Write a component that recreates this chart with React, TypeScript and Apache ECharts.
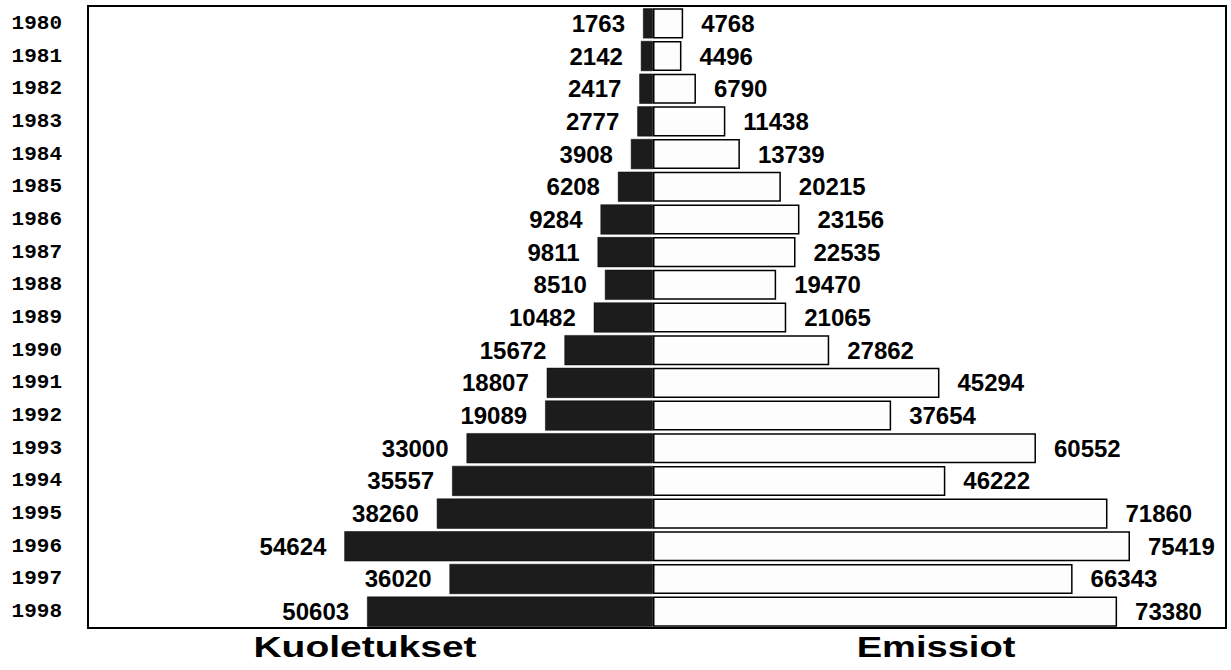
import React, { useEffect, useRef } from "react";
import * as echarts from "echarts";

const years = ["1980","1981","1982","1983","1984","1985","1986","1987","1988","1989","1990","1991","1992","1993","1994","1995","1996","1997","1998"];
const kuoletukset = [1763,2142,2417,2777,3908,6208,9284,9811,8510,10482,15672,18807,19089,33000,35557,38260,54624,36020,50603];
const emissiot = [4768,4496,6790,11438,13739,20215,23156,22535,19470,21065,27862,45294,37654,60552,46222,71860,75419,66343,73380];
const leftTitle = "Kuoletukset";
const rightTitle = "Emissiot";

export default function App() {
  const ref = useRef<HTMLDivElement>(null);
  useEffect(() => {
    if (!ref.current) return;
    const chart = echarts.init(ref.current, null, { renderer: "svg" });
    const valueLabel = {
      show: true,
      fontFamily: "Liberation Sans, Arial, sans-serif",
      fontWeight: "bold" as const,
      fontSize: 24,
      color: "#000",
      distance: 18,
    };
    chart.setOption({
      animation: false,
      backgroundColor: "#fff",
      grid: [
        { left: 88, top: 7, width: 565, height: 621 },
        { left: 653, top: 7, width: 573, height: 621 },
      ],
      xAxis: [
        { type: "value", gridIndex: 0, min: 0, max: 100000, inverse: true, show: false },
        { type: "value", gridIndex: 1, min: 0, max: 90600, show: false },
      ],
      yAxis: [
        {
          type: "category",
          gridIndex: 0,
          data: years,
          inverse: true,
          position: "left",
          axisLine: { show: false },
          axisTick: { show: false },
          axisLabel: {
            margin: 26,
            fontFamily: "Liberation Mono, Courier New, monospace",
            fontWeight: "bold",
            fontSize: 21,
            color: "#000",
            padding: [5, 0, 0, 0],
          },
        },
        {
          type: "category",
          gridIndex: 1,
          data: years,
          inverse: true,
          show: false,
        },
      ],
      series: [
        {
          name: leftTitle,
          type: "bar",
          xAxisIndex: 0,
          yAxisIndex: 0,
          data: kuoletukset,
          barCategoryGap: "8%",
          itemStyle: { color: "#1c1c1c", borderColor: "#000", borderWidth: 0.5 },
          label: { ...valueLabel, position: "left" },
        },
        {
          name: rightTitle,
          type: "bar",
          xAxisIndex: 1,
          yAxisIndex: 1,
          data: emissiot,
          barCategoryGap: "8%",
          itemStyle: { color: "#fdfdfd", borderColor: "#000", borderWidth: 1.5 },
          label: { ...valueLabel, position: "right" },
        },
      ],
      graphic: [
        {
          type: "rect",
          shape: { x: 88, y: 6, width: 1138, height: 622 },
          style: { fill: "none", stroke: "#000", lineWidth: 2 },
          silent: true,
          z: 10,
        },
        {
          type: "text",
          x: 365,
          y: 647,
          scaleX: 1.3,
          style: {
            text: leftTitle,
            fontFamily: "Liberation Sans, Arial, sans-serif",
            fontWeight: "bold",
            fontSize: 30,
            fill: "#000",
            textAlign: "center",
            textVerticalAlign: "middle",
          },
        },
        {
          type: "text",
          x: 936,
          y: 647,
          scaleX: 1.27,
          style: {
            text: rightTitle,
            fontFamily: "Liberation Sans, Arial, sans-serif",
            fontWeight: "bold",
            fontSize: 30,
            fill: "#000",
            textAlign: "center",
            textVerticalAlign: "middle",
          },
        },
      ],
    });
    return () => chart.dispose();
  }, []);
  return (
    <div
      ref={ref}
      style={{ position: "fixed", left: 0, top: 0, width: 1231, height: 670, background: "#fff" }}
    />
  );
}
